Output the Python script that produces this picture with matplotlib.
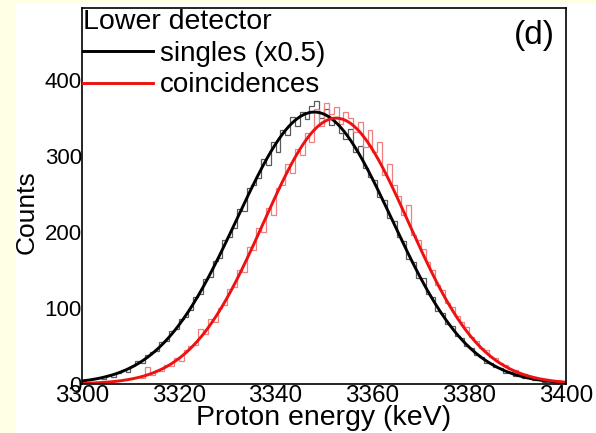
import numpy as np
import matplotlib
matplotlib.use("Agg")
import matplotlib.pyplot as plt
from matplotlib.patches import Rectangle

plt.rcParams["font.family"] = ["Liberation Sans", "DejaVu Sans"]

# singles (x0.5) histogram, 1 keV bins starting at 3304 keV
singles_start = 3304
singles_counts = [
    6, 12, 9, 14, 18, 16, 24, 30, 27, 38, 42, 44, 55, 57, 70, 72, 86, 88, 98, 115,
    118, 138, 141, 162, 166, 190, 193, 205, 230, 228, 258, 262, 271, 296, 288, 318,
    305, 335, 328, 352, 340, 358, 349, 366, 372, 350, 362, 341, 352, 330, 322, 336,
    305, 313, 284, 272, 268, 246, 242, 218, 214, 193, 188, 165, 161, 140, 139, 118,
    115, 96, 94, 79, 76, 63, 60, 50, 47, 38, 36, 28, 27, 22, 21, 15, 16, 11, 12, 8,
    9, 5, 6, 3,
]

# coincidences histogram, 1 keV bins starting at 3312 keV
coinc_start = 3312
coinc_counts = [
    8, 22, 12, 18, 17, 25, 24, 34, 30, 45, 50, 52, 72, 66, 85, 82, 100, 104, 125, 128,
    150, 148, 180, 176, 205, 200, 232, 222, 258, 262, 290, 278, 310, 302, 330, 318,
    362, 340, 370, 355, 365, 342, 358, 350, 332, 345, 312, 335, 306, 318, 275, 290,
    262, 248, 222, 235, 196, 190, 178, 160, 150, 130, 124, 106, 102, 90, 82, 75, 62,
    56, 48, 45, 36, 34, 27, 25, 20, 18, 14, 13, 10, 9, 7, 6, 4,
]

# gaussian fit parameters: amplitude, centroid (keV), sigma (keV)
singles_fit = (358, 3348.0, 16.0)
coinc_fit = (350, 3352.5, 15.0)

x_ticks = [3300, 3320, 3340, 3360, 3380, 3400]
y_ticks = [0, 100, 200, 300, 400]


def gauss(x, amp, mu, sig):
    return amp * np.exp(-0.5 * ((x - mu) / sig) ** 2)


fig = plt.figure(figsize=(5.96, 4.33), dpi=100)
fig.patch.set_facecolor("#FFFFE3")
fig.patches.append(Rectangle((16 / 596, 0), 1, 1 - 4 / 433, transform=fig.transFigure,
                             facecolor="white", edgecolor="none", zorder=-10))

ax = fig.add_axes([82 / 596, 1 - 384 / 433, 484 / 596, 376 / 433])

edges_s = np.arange(singles_start, singles_start + len(singles_counts) + 1)
edges_c = np.arange(coinc_start, coinc_start + len(coinc_counts) + 1)
ax.stairs(singles_counts, edges_s, baseline=None, color="#5a5a5a", lw=0.9)
ax.stairs(coinc_counts, edges_c, baseline=None, color="#f08080", lw=0.9)

xx = np.linspace(3300, 3400, 500)
ax.plot(xx, gauss(xx, *singles_fit), color="black", lw=2.1, label="singles (x0.5)")
ax.plot(xx, gauss(xx, *coinc_fit), color="#ee1111", lw=2.1, label="coincidences")

ax.set_xlim(3300, 3400)
ax.set_ylim(0, 495)
ax.set_xticks(x_ticks)
ax.set_yticks(y_ticks)
ax.tick_params(axis="x", length=0, pad=1, labelsize=17.5)
ax.tick_params(axis="y", length=0, pad=0, labelsize=16)
for s in ax.spines.values():
    s.set_linewidth(1.2)

ax.set_xlabel("Proton energy (keV)", fontsize=20.5, labelpad=-2)
ax.set_ylabel("Counts", fontsize=19)
ax.yaxis.set_label_coords(-0.09, 0.457)

leg = ax.legend(loc="upper left", bbox_to_anchor=(0, 1), borderaxespad=0, borderpad=0.05,
                frameon=False, fontsize=20, title="Lower detector", title_fontsize=20.5,
                handlelength=2.5, handletextpad=0.25, labelspacing=0.2, alignment="left")
for line in leg.get_lines():
    line.set_linewidth(2.1)

ax.text(0.934, 0.928, "(d)", transform=ax.transAxes, fontsize=24, ha="center", va="center")

fig.savefig("out.png", dpi=100)
